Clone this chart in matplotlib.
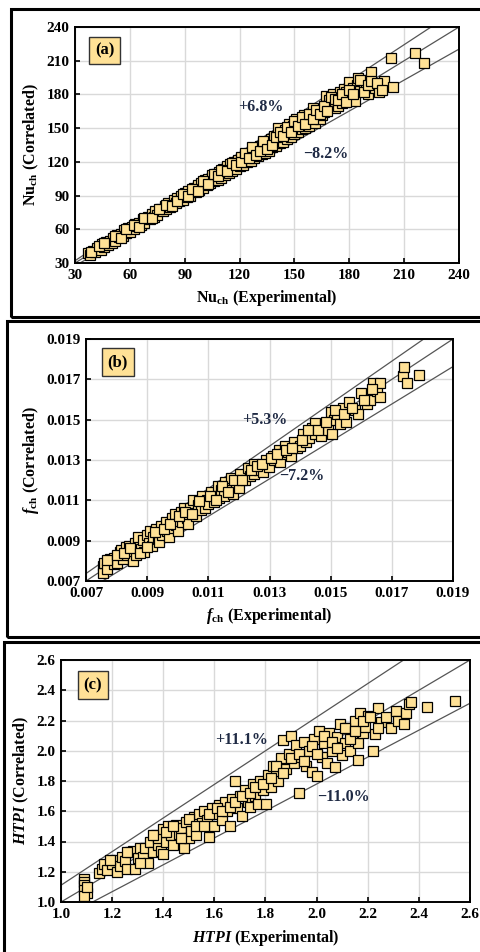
import numpy as np
import matplotlib
matplotlib.use('Agg')
import matplotlib.pyplot as plt
from matplotlib.patches import Rectangle

plt.rcParams['font.family'] = ['Liberation Serif', 'DejaVu Serif']
plt.rcParams['font.weight'] = 'bold'
plt.rcParams['mathtext.fontset'] = 'custom'
plt.rcParams['mathtext.rm'] = 'Liberation Serif:bold'
plt.rcParams['mathtext.it'] = 'Liberation Serif:bold:italic'

FACE = '#FFE196'
TXT = '#1F2A44'

# (a) Nu_ch
nu_exp = [37, 38, 40, 41, 42, 44, 45, 46, 47, 48, 49, 50, 51, 52, 53, 54, 55, 56, 57, 58,
          59, 60, 61, 62, 63, 64, 65, 66, 67, 68, 70, 71, 72, 73, 74, 75, 77, 78, 79, 80,
          81, 82, 84, 85, 86, 87, 88, 89, 90, 91, 92, 93, 95, 96, 97, 98, 99, 100, 101, 102,
          103, 104, 105, 106, 107, 108, 109, 110, 111, 112, 113, 114, 115, 116, 117, 118, 119, 120, 121, 122,
          123, 124, 125, 126, 127, 128, 129, 130, 131, 132, 133, 134, 135, 136, 137, 138, 139, 140, 141, 142,
          143, 144, 145, 146, 147, 148, 149, 150, 151, 152, 153, 154, 155, 156, 157, 158, 159, 160, 161, 162,
          163, 164, 165, 166, 167, 168, 169, 170, 171, 172, 173, 174, 175, 176, 177, 178, 179, 180, 181, 182,
          183, 184, 185, 186, 188, 189, 190, 191, 192, 193, 194, 196, 199, 203, 204, 216, 221,
          39, 43, 46, 52, 55, 58, 62, 65, 68, 72, 76, 80, 83, 86, 89, 92, 94, 97, 100, 103,
          106, 108, 110, 113, 116, 118, 121, 123, 125, 127, 129, 131, 133, 135, 138, 140, 142, 144, 146, 148,
          150, 152, 154, 156, 158, 160, 162, 164, 166, 168, 170, 172, 174, 176, 178, 180, 182, 186, 188, 190,
          192, 195, 198]
nu_cor = [39, 37, 41, 40, 43, 42, 47, 44, 49, 46, 50, 48, 52, 50, 55, 53, 56, 54, 59, 57,
          61, 58, 62, 60, 65, 63, 66, 64, 69, 66, 71, 69, 74, 71, 76, 73, 78, 76, 81, 78,
          83, 80, 86, 83, 88, 85, 90, 86, 92, 89, 94, 90, 97, 93, 99, 95, 101, 97, 104, 99,
          105, 101, 108, 103, 109, 104, 111, 106, 114, 108, 116, 110, 118, 112, 120, 114, 122, 116, 124, 117,
          126, 120, 128, 121, 130, 123, 131, 125, 134, 127, 137, 128, 138, 130, 140, 133, 143, 134, 150, 137,
          145, 138, 148, 140, 154, 142, 152, 145, 158, 147, 155, 149, 162, 150, 160, 152, 163, 168, 155, 160,
          165, 158, 162, 164, 179, 170, 175, 172, 180, 168, 176, 170, 182, 172, 185, 182, 175, 191, 178, 186,
          174, 188, 195, 183, 190, 185, 180, 193, 200, 188, 186, 182, 192, 212, 187, 217, 208,
          40, 45, 48, 54, 52, 60, 64, 62, 70, 70, 78, 82, 81, 85, 91, 90, 96, 94, 103, 100,
          109, 107, 113, 112, 119, 117, 120, 128, 123, 133, 126, 130, 139, 131, 135, 142, 147, 143, 151, 147,
          156, 152, 160, 154, 163, 158, 166, 163, 170, 165, 178, 176, 175, 180, 173, 184, 180, 193, 182, 188,
          192, 190, 184]

# (b) f_ch, in units of 1e-3
f_exp = [7.55, 7.55, 7.6, 7.7, 7.8, 7.9, 7.9, 8.0, 8.1, 8.15, 8.2, 8.3, 8.35, 8.4, 8.5, 8.55, 8.6, 8.65, 8.7, 8.7,
         8.8, 8.85, 8.9, 9.0, 9.05, 9.1, 9.15, 9.2, 9.3, 9.35, 9.4, 9.45, 9.5, 9.6, 9.65, 9.7, 9.8, 9.85, 9.9, 9.95,
         10.0, 10.1, 10.15, 10.2, 10.3, 10.35, 10.4, 10.5, 10.5, 10.6, 10.65, 10.75, 10.8, 10.9, 10.95, 11.0, 11.1, 11.2, 11.3, 11.35,
         11.4, 11.5, 11.55, 11.7, 11.75, 11.8, 11.9, 12.0, 12.05, 12.2, 12.3, 12.35, 12.5, 12.5, 12.65, 12.8, 12.9, 13.0, 13.1, 13.15,
         13.3, 13.35, 13.45, 13.5, 13.6, 13.7, 13.8, 13.9, 14.0, 14.1, 14.2, 14.3, 14.4, 14.5, 14.5, 14.7, 14.8, 14.9, 15.0, 15.05,
         15.1, 15.2, 15.3, 15.4, 15.5, 15.6, 15.8, 15.9, 16.0, 16.2, 16.3, 16.4, 16.5, 16.6, 16.6, 17.35, 17.4, 17.5, 17.9,
         7.7, 8.0, 8.25, 8.45, 8.75, 9.0, 9.25, 9.55, 9.75, 10.05, 10.25, 10.45, 10.7, 11.05, 11.25, 11.45, 11.65, 11.85, 12.1, 12.4,
         12.6, 12.75, 13.05, 13.25, 13.55, 13.75, 14.05, 14.25, 14.6, 14.85, 15.15, 15.45, 15.7, 16.1, 16.35]
f_cor = [7.75, 7.4, 7.9, 7.6, 8.1, 7.85, 8.15, 7.9, 8.45, 8.55, 8.1, 8.7, 8.3, 8.75, 8.45, 8.0, 8.9, 8.3, 8.8, 9.2,
         8.6, 9.05, 8.45, 9.3, 8.9, 9.5, 8.75, 9.2, 9.6, 9.1, 8.95, 9.75, 9.3, 9.95, 9.5, 9.2, 10.1, 9.65, 10.3, 9.8,
         9.5, 10.4, 9.95, 10.6, 10.1, 9.85, 10.6, 10.35, 11.0, 10.2, 10.75, 10.5, 11.2, 10.6, 11.0, 10.8, 11.4, 10.9, 11.7, 11.1,
         11.5, 11.2, 11.9, 11.5, 12.1, 11.3, 11.8, 11.6, 12.3, 12.0, 12.6, 12.2, 12.3, 12.8, 12.5, 12.4, 13.0, 12.65, 13.2, 13.0,
         13.5, 12.9, 13.3, 13.7, 13.4, 13.2, 13.9, 13.6, 13.7, 14.3, 13.9, 14.1, 14.6, 14.3, 14.85, 14.2, 14.8, 14.5, 15.4, 14.3,
         15.0, 15.3, 14.8, 15.6, 14.9, 15.9, 15.5, 15.3, 16.3, 15.8, 16.0, 16.8, 16.4, 16.8, 16.1, 17.15, 17.6, 16.8, 17.2,
         8.05, 8.3, 8.4, 8.65, 8.4, 8.7, 9.45, 9.6, 9.85, 10.2, 10.4, 10.3, 10.95, 11.2, 11.0, 11.7, 11.4, 12.0, 12.0, 12.5,
         12.7, 12.8, 13.1, 13.3, 13.5, 13.6, 14.0, 14.5, 14.5, 14.9, 15.5, 15.3, 15.6, 16.0, 16.5]

# (c) HTPI
h_exp = [1.09, 1.09, 1.09, 1.09, 1.10, 1.09, 1.10, 1.15, 1.16, 1.17, 1.18, 1.20, 1.21, 1.22, 1.23, 1.24, 1.25, 1.26, 1.27, 1.28,
         1.29, 1.30, 1.31, 1.32, 1.33, 1.34, 1.35, 1.36, 1.37, 1.38, 1.38, 1.39, 1.40, 1.40, 1.41, 1.42, 1.43, 1.44, 1.45, 1.46,
         1.47, 1.48, 1.49, 1.50, 1.51, 1.52, 1.53, 1.54, 1.55, 1.56, 1.57, 1.58, 1.59, 1.60, 1.61, 1.62, 1.63, 1.64, 1.65, 1.66,
         1.67, 1.68, 1.69, 1.70, 1.71, 1.72, 1.73, 1.74, 1.75, 1.76, 1.77, 1.78, 1.79, 1.80, 1.81, 1.82, 1.83, 1.84, 1.85, 1.86,
         1.87, 1.88, 1.89, 1.90, 1.91, 1.92, 1.93, 1.94, 1.95, 1.96, 1.97, 1.98, 1.99, 2.00, 2.01, 2.02, 2.03, 2.04, 2.05, 2.06,
         2.07, 2.08, 2.09, 2.10, 2.11, 2.12, 2.13, 2.14, 2.15, 2.16, 2.16, 2.17, 2.18, 2.19, 2.20, 2.22, 2.23, 2.24, 2.25, 2.27,
         2.29, 2.31, 2.32, 2.34, 2.35, 2.36, 2.37, 2.43, 2.54,
         1.19, 1.26, 1.31, 1.36, 1.41, 1.44, 1.47, 1.50, 1.53, 1.56, 1.58, 1.61, 1.63, 1.66, 1.68, 1.71, 1.74, 1.76, 1.79, 1.82,
         1.84, 1.87, 1.90, 1.93, 1.95, 1.98, 2.00, 2.03, 2.06, 2.08, 2.11, 2.13, 2.15, 2.18, 2.21, 2.24]
h_cor = [1.15, 1.13, 1.11, 1.08, 1.06, 1.04, 1.10, 1.19, 1.22, 1.25, 1.21, 1.25, 1.28, 1.20, 1.24, 1.30, 1.27, 1.22, 1.33, 1.34,
         1.22, 1.29, 1.36, 1.30, 1.36, 1.26, 1.40, 1.33, 1.44, 1.38, 1.42, 1.34, 1.32, 1.48, 1.40, 1.50, 1.44, 1.38, 1.51, 1.45,
         1.49, 1.36, 1.53, 1.42, 1.47, 1.56, 1.44, 1.58, 1.52, 1.60, 1.54, 1.43, 1.62, 1.50, 1.58, 1.64, 1.54, 1.66, 1.60, 1.50,
         1.68, 1.80, 1.62, 1.70, 1.57, 1.74, 1.66, 1.63, 1.78, 1.70, 1.65, 1.80, 1.74, 1.65, 1.84, 1.76, 1.90, 1.83, 1.80, 1.95,
         2.07, 1.88, 1.98, 2.10, 1.92, 2.04, 1.72, 1.96, 2.06, 1.90, 2.00, 1.86, 2.08, 1.83, 2.13, 1.96, 2.05, 1.92, 2.12, 2.00,
         1.89, 2.09, 2.18, 1.97, 2.05, 2.15, 2.00, 2.10, 2.20, 1.94, 2.05, 2.25, 2.12, 2.16, 2.23, 2.00, 2.11, 2.28, 2.19, 2.22,
         2.15, 2.26, 2.20, 2.18, 2.25, 2.31, 2.32, 2.29, 2.33,
         1.28, 1.33, 1.26, 1.44, 1.46, 1.50, 1.42, 1.55, 1.50, 1.50, 1.58, 1.62, 1.60, 1.63, 1.66, 1.70, 1.72, 1.76, 1.78, 1.82,
         1.90, 1.85, 1.95, 1.98, 1.93, 2.03, 1.98, 2.10, 2.06, 2.02, 2.15, 2.08, 2.13, 2.20, 2.22, 2.15]

panels = [
    dict(x=np.array(nu_exp), y=np.array(nu_cor), lim=(30, 240), ticks=np.arange(30, 241, 30),
         fmt='%d', up=1.068, lo=0.918, tag='(a)',
         xl='Nu$_{\\mathregular{ch}}$ (Experimental)', yl='Nu$_{\\mathregular{ch}}$ (Correlated)',
         t_up=('+6.8%', 119, 169), t_lo=('\u22128.2%', 155, 127),
         pos=[75/480, 1-263/952, 384/480, 236/952], tagpos=(0.078, 0.90),
         box=(11, 9, 317)),
    dict(x=np.array(f_exp)*1e-3, y=np.array(f_cor)*1e-3, lim=(0.007, 0.019),
         ticks=np.arange(0.007, 0.0191, 0.002), fmt='%.3f', up=1.053, lo=0.928, tag='(b)',
         xl='$\\it{f}$$_{\\mathregular{ch}}$ (Experimental)', yl='$\\it{f}$$_{\\mathregular{ch}}$ (Correlated)',
         t_up=('+5.3%', 0.0121, 0.01498), t_lo=('\u22127.2%', 0.01331, 0.0122),
         pos=[86/480, 1-581/952, 367/480, 242/952], tagpos=(0.087, 0.905),
         box=(7, 321, 637)),
    dict(x=np.array(h_exp), y=np.array(h_cor), lim=(1.0, 2.6), ticks=np.arange(1.0, 2.61, 0.2),
         fmt='%.1f', up=1.111, lo=0.89, tag='(c)',
         xl='$\\it{HTPI}$ (Experimental)', yl='$\\it{HTPI}$ (Correlated)',
         t_up=('+11.1%', 1.602, 2.071), t_lo=('\u221211.0%', 2.0, 1.694),
         pos=[61/480, 1-902/952, 409/480, 242/952], tagpos=(0.078, 0.897),
         box=(4, 642, 965)),
]

fig = plt.figure(figsize=(4.8, 9.52), dpi=100)

for p in panels:
    x0, ytop, ybot = p['box']
    fig.patches.append(Rectangle((x0/480, 1-ybot/952), 1.2, (ybot-ytop)/952,
                                 transform=fig.transFigure, fill=False,
                                 edgecolor='black', linewidth=2.2))
    ax = fig.add_axes(p['pos'])
    lo, hi = p['lim']
    ax.set_xlim(lo, hi)
    ax.set_ylim(lo, hi)
    ax.set_xticks(p['ticks'])
    ax.set_yticks(p['ticks'])
    ax.set_xticklabels([p['fmt'] % t for t in p['ticks']], fontweight='bold')
    ax.set_yticklabels([p['fmt'] % t for t in p['ticks']], fontweight='bold')
    ax.grid(True, color='#D9D9D9', linewidth=1.0)
    ax.set_axisbelow(True)
    ax.tick_params(direction='in', length=3.5, width=1.2, labelsize=11, pad=4)
    for s in ax.spines.values():
        s.set_linewidth(1.4)

    xs = np.array([0, hi * 1.2])
    for k in (1.0, p['up'], p['lo']):
        ax.plot(xs, k * xs, color='#555555', linewidth=0.9, zorder=2)

    ax.plot(p['x'], p['y'], 's', markersize=7.5, markerfacecolor=FACE,
            markeredgecolor='black', markeredgewidth=0.9, zorder=3)

    ax.text(p['t_up'][1], p['t_up'][2], p['t_up'][0], color=TXT, fontsize=11.5,
            fontweight='bold', va='center', ha='left', zorder=4)
    ax.text(p['t_lo'][1], p['t_lo'][2], p['t_lo'][0], color=TXT, fontsize=11.5,
            fontweight='bold', va='center', ha='left', zorder=4)
    ax.text(p['tagpos'][0], p['tagpos'][1], p['tag'], transform=ax.transAxes,
            fontsize=12, fontweight='bold', ha='center', va='center', zorder=5,
            bbox=dict(boxstyle='square,pad=0.35', facecolor=FACE, edgecolor='#333333',
                      linewidth=1.0))

    ax.set_xlabel(p['xl'], fontsize=11.5, fontweight='bold', labelpad=5)
    ax.set_ylabel(p['yl'], fontsize=11.5, fontweight='bold', labelpad=4)

fig.savefig('out.png', dpi=100)
